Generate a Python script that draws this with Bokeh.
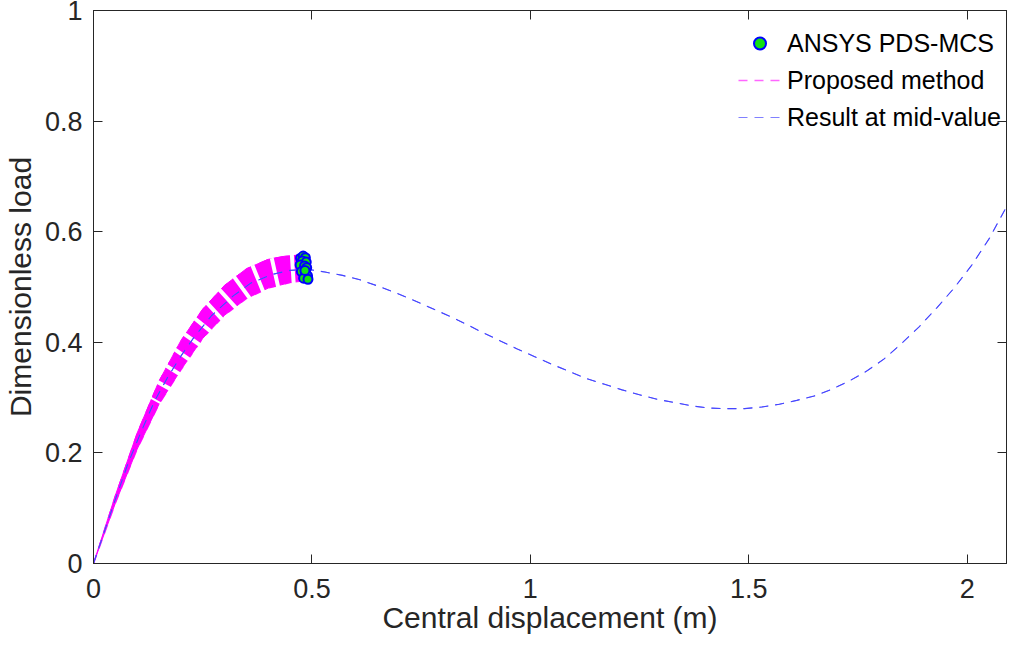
from bokeh.plotting import figure
from bokeh.models import LinearAxis, FixedTicker, Range1d, Legend, LegendItem
from bokeh.embed import file_html
from bokeh.resources import INLINE

# ---------------- data ----------------
mid_x = [0, 0.05, 0.08, 0.11, 0.14, 0.17, 0.20, 0.23, 0.27, 0.32, 0.36, 0.41, 0.45, 0.49,
         0.53, 0.57, 0.61, 0.65, 0.69, 0.73, 0.77, 0.81, 0.85, 0.89, 0.93, 0.97, 1.01,
         1.05, 1.09, 1.13, 1.17, 1.21, 1.25, 1.29, 1.33, 1.37, 1.41, 1.45, 1.49, 1.53,
         1.57, 1.61, 1.65, 1.69, 1.73, 1.77, 1.81, 1.85, 1.89, 1.93, 1.97, 2.01, 2.05,
         2.09, 2.13]
mid_y = [0, 0.116, 0.183, 0.240, 0.294, 0.337, 0.375, 0.409, 0.448, 0.484, 0.507, 0.523,
         0.530, 0.532, 0.527, 0.521, 0.513, 0.502, 0.490, 0.477, 0.463, 0.449, 0.434,
         0.418, 0.403, 0.388, 0.374, 0.360, 0.347, 0.334, 0.324, 0.314, 0.305, 0.297,
         0.291, 0.285, 0.281, 0.280, 0.280, 0.283, 0.288, 0.295, 0.303, 0.315, 0.330,
         0.348, 0.370, 0.398, 0.428, 0.462, 0.498, 0.539, 0.587, 0.645, 0.725]

upper_x = [0, 0.05, 0.10, 0.15, 0.20, 0.25, 0.30, 0.35, 0.40, 0.44, 0.48]
upper_y = [0, 0.123, 0.236, 0.330, 0.403, 0.460, 0.503, 0.533, 0.550, 0.556, 0.558]
lower_x = [0, 0.05, 0.10, 0.15, 0.20, 0.25, 0.30, 0.35, 0.40, 0.45, 0.495]
lower_y = [0, 0.109, 0.207, 0.288, 0.350, 0.407, 0.449, 0.479, 0.498, 0.508, 0.512]

mcs_x = [0.474, 0.480, 0.485, 0.478, 0.487, 0.473, 0.483, 0.488, 0.476, 0.486, 0.490,
         0.481, 0.491, 0.484]
mcs_y = [0.552, 0.556, 0.553, 0.547, 0.545, 0.540, 0.538, 0.535, 0.528, 0.525, 0.520,
         0.516, 0.514, 0.530]

x_ticks = [0, 0.5, 1, 1.5, 2]
x_tick_labels = ["0", "0.5", "1", "1.5", "2"]
y_ticks = [0, 0.2, 0.4, 0.6, 0.8, 1]
y_tick_labels = ["0", "0.2", "0.4", "0.6", "0.8", "1"]
series_names = ["ANSYS PDS-MCS", "Proposed method", "Result at mid-value"]
x_label = "Central displacement (m)"
y_label = "Dimensionless load"
x_max = 2.09
y_max = 1.0

FONT = "Liberation Sans"
INK = "#262626"

p = figure(frame_width=913, frame_height=553, output_backend="svg",
           toolbar_location=None,
           x_range=Range1d(0, x_max), y_range=Range1d(0, y_max),
           min_border_left=87, min_border_right=4, min_border_top=10,
           min_border_bottom=78)
p.grid.visible = False
p.outline_line_color = INK
p.background_fill_color = "white"
p.border_fill_color = "white"

p.add_layout(LinearAxis(), "above")
p.add_layout(LinearAxis(), "right")

for ax in p.xaxis:
    ax.ticker = FixedTicker(ticks=x_ticks)
    ax.major_label_overrides = dict(zip(x_ticks, x_tick_labels))
for ax in p.yaxis:
    ax.ticker = FixedTicker(ticks=y_ticks)
    ax.major_label_overrides = dict(zip(y_ticks, y_tick_labels))

for ax in p.axis:
    ax.axis_line_color = INK
    ax.major_tick_line_color = INK
    ax.major_tick_in = 9
    ax.major_tick_out = 0
    ax.minor_tick_line_color = None
    ax.major_label_text_font = FONT
    ax.major_label_text_font_size = "27px"
    ax.major_label_text_color = INK
    ax.axis_label_text_font = FONT
    ax.axis_label_text_font_size = "30px"
    ax.axis_label_text_font_style = "normal"
    ax.axis_label_text_color = INK

# mirrored box ticks on top and right: no labels
for ax in (p.xaxis[0], p.yaxis[1]):
    ax.major_label_text_font_size = "0px"
    ax.major_label_standoff = 0

bottom = p.below[0]
left = p.left[0]
bottom.axis_label = x_label
bottom.major_label_standoff = 15
bottom.axis_label_standoff = 0
left.axis_label = y_label
left.major_label_standoff = 11
left.axis_label_standoff = 5

# ---- Proposed method: band of dashed curves ----
r_prop = p.line(lower_x, lower_y, line_color="#FF66FF", line_width=1.6,
                line_dash="9 7")
p.line(upper_x, upper_y, line_color="#FF00FF", line_width=1, line_dash="9 7")
band_x = upper_x + lower_x[::-1]
band_y = upper_y + lower_y[::-1]
p.patch(band_x, band_y, fill_color="#FF00FF", line_color="#FF00FF", line_width=1)

# white gaps between the dashes of the band
stripe_x = [x for x in mid_x if 0.14 <= x <= 0.5]
stripe_y = [y for x, y in zip(mid_x, mid_y) if 0.14 <= x <= 0.5]
p.line(stripe_x, stripe_y, line_color="white", line_width=32, line_dash="4 14",
       line_dash_offset=2)

# ---- Result at mid-value ----
# lighter thin copy (used for the legend key), covered by the main curve
r_mid_key = p.line(mid_x, mid_y, line_color="#8080FF", line_width=1.0, line_dash="9 7")
p.line(mid_x, mid_y, line_color="#4545FF", line_width=1.1, line_dash="9 7")

# ---- ANSYS PDS-MCS ----
r_mcs = p.scatter(mcs_x, mcs_y, marker="circle", size=9, fill_color="#14E014",
                  line_color="#0000FF", line_width=2)

legend = Legend(items=[LegendItem(label=series_names[0], renderers=[r_mcs]),
                       LegendItem(label=series_names[1], renderers=[r_prop]),
                       LegendItem(label=series_names[2], renderers=[r_mid_key])],
                location=(645, 431), padding=0, margin=0, spacing=7,
                label_height=30, glyph_height=30, glyph_width=43, label_standoff=6,
                label_text_font=FONT, label_text_font_size="25px",
                label_text_color="black", border_line_color=None,
                background_fill_alpha=0)
p.add_layout(legend)

open("out.html", "w").write(file_html(p, INLINE))
